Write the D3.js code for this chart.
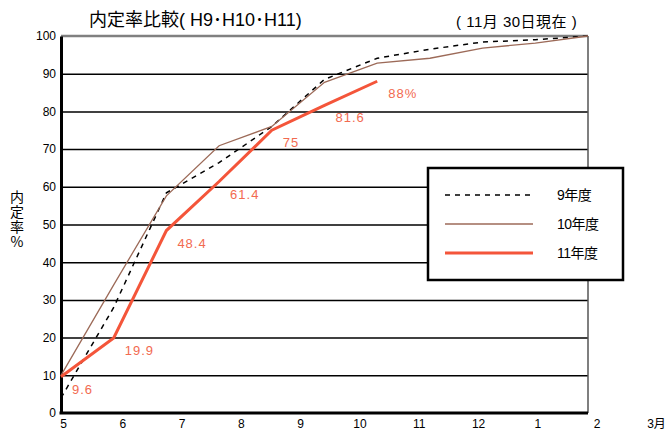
<!DOCTYPE html>
<html>
<head>
<meta charset="utf-8">
<script src="https://cdn.jsdelivr.net/npm/d3@7"></script>
<style>
  html, body { margin: 0; padding: 0; background: #fff; }
  svg { display: block; }
  text { font-family: "Liberation Sans", Arial, "Noto Sans CJK JP", sans-serif; fill: #000; }
</style>
</head>
<body>
<svg id="chart" width="665" height="432"></svg>
<script>
// ---- data ----
const months = ["5", "6", "7", "8", "9", "10", "11", "12", "1", "2", "3月"];
const yTicks = [0, 10, 20, 30, 40, 50, 60, 70, 80, 90, 100];
const seriesNames = ["9年度", "10年度", "11年度"];
const h9 = [4, 28, 58.4, 66.4, 76, 88.5, 94.1, 96.5, 98.4, 99, 100];
const h10 = [10, 34, 57.6, 70.9, 76, 87.7, 92.8, 94.1, 96.8, 98.1, 100];
const h11 = [9.6, 19.9, 48.4, 61.4, 75, 81.6, 88];
const h11Labels = ["9.6", "19.9", "48.4", "61.4", "75", "81.6", "88%"];

// ---- layout ----
const svg = d3.select("#chart");
const L = 61, R = 588, T = 36, B = 413;
const FONT_CJK = '"Liberation Sans", "Noto Sans CJK JP", sans-serif';

const xData = d3.scalePoint().domain(months).range([L, R]);
const xLabel = d3.scalePoint().domain(months).range([63, 656]);
const y = d3.scaleLinear().domain([0, 100]).range([B, T]);

// gridlines
const grid = svg.append("g").attr("transform", `translate(${L},0)`)
  .call(d3.axisLeft(y).tickValues(yTicks.filter(v => v > 0 && v < 100)).tickSize(-(R - L)).tickFormat(""));
grid.select(".domain").remove();
grid.selectAll(".tick line").attr("stroke", "#000").attr("stroke-width", 1.5);

// top line (100)
svg.append("line").attr("x1", L).attr("x2", R).attr("y1", y(100)).attr("y2", y(100))
  .attr("stroke", "#808080").attr("stroke-width", 2.5);
// right border
svg.append("line").attr("x1", R).attr("x2", R).attr("y1", y(100)).attr("y2", y(0))
  .attr("stroke", "#555").attr("stroke-width", 1.5);

// y axis
const yAxis = svg.append("g").attr("transform", `translate(${L},0)`)
  .call(d3.axisLeft(y).tickValues(yTicks).tickSize(0).tickPadding(5));
yAxis.select(".domain").attr("stroke", "#000").attr("stroke-width", 3);
yAxis.selectAll(".tick text").attr("font-size", 12).attr("fill", "#000")
  .style("font-family", '"Liberation Sans", Arial, sans-serif');

// x axis
const xAxis = svg.append("g").attr("transform", `translate(0,${B})`)
  .call(d3.axisBottom(xLabel).tickSize(0).tickPadding(6));
xAxis.select(".domain").remove();
xAxis.selectAll(".tick text").attr("font-size", 12).attr("fill", "#000")
  .style("font-family", '"Liberation Sans", "Noto Sans CJK JP", sans-serif');
svg.append("line").attr("x1", L - 1.5).attr("x2", R).attr("y1", B).attr("y2", B)
  .attr("stroke", "#000").attr("stroke-width", 3);

// lines
const line = d3.line().x((d, i) => xData(months[i])).y(d => y(d));
svg.append("path").datum(h9).attr("d", line).attr("fill", "none")
  .attr("stroke", "#000").attr("stroke-width", 1.5).attr("stroke-dasharray", "5,5");
svg.append("path").datum(h10).attr("d", line).attr("fill", "none")
  .attr("stroke", "#9c6a58").attr("stroke-width", 1.3);
svg.append("path").datum(h11).attr("d", line).attr("fill", "none")
  .attr("stroke", "#f4553a").attr("stroke-width", 3).attr("stroke-linejoin", "miter");

// data labels
svg.append("g").selectAll("text").data(h11).join("text")
  .attr("x", (d, i) => xData(months[i]) + 11)
  .attr("y", d => y(d) + 17)
  .attr("font-size", 13)
  .attr("letter-spacing", 1)
  .style("font-family", '"Liberation Sans", Arial, sans-serif')
  .style("fill", "#f26a50")
  .text((d, i) => h11Labels[i]);

// title
svg.append("text").attr("x", 89).attr("y", 26).attr("font-size", 18)
  .style("font-family", FONT_CJK).text("内定率比較( H9･H10･H11)");
svg.append("text").attr("x", 456).attr("y", 27).attr("font-size", 15)
  .attr("letter-spacing", 0.5)
  .style("font-family", FONT_CJK).text("( 11月 30日現在 )");

// y label (vertical)
svg.append("text")
  .attr("x", 17).attr("y", 190)
  .attr("font-size", 14)
  .attr("letter-spacing", 1)
  .style("font-family", '"Noto Sans CJK JP", sans-serif')
  .style("writing-mode", "vertical-rl")
  .style("text-orientation", "upright")
  .text("内定率%");

// legend
const lg = svg.append("g");
lg.append("rect").attr("x", 428).attr("y", 168).attr("width", 195).attr("height", 112)
  .attr("fill", "#fff").attr("stroke", "#000").attr("stroke-width", 2.5);
const legendStyles = [
  { stroke: "#000", w: 1.5, dash: "5,5" },
  { stroke: "#9c6a58", w: 1.3, dash: null },
  { stroke: "#f4553a", w: 3, dash: null }
];
seriesNames.forEach((name, i) => {
  const ly = 195 + i * 29;
  lg.append("line").attr("x1", 445).attr("x2", 533).attr("y1", ly).attr("y2", ly)
    .attr("stroke", legendStyles[i].stroke).attr("stroke-width", legendStyles[i].w)
    .attr("stroke-dasharray", legendStyles[i].dash);
  lg.append("text").attr("x", 557).attr("y", ly + 5).attr("font-size", 14)
    .attr("letter-spacing", -0.5)
    .style("font-family", FONT_CJK).text(name);
});
</script>
</body>
</html>
